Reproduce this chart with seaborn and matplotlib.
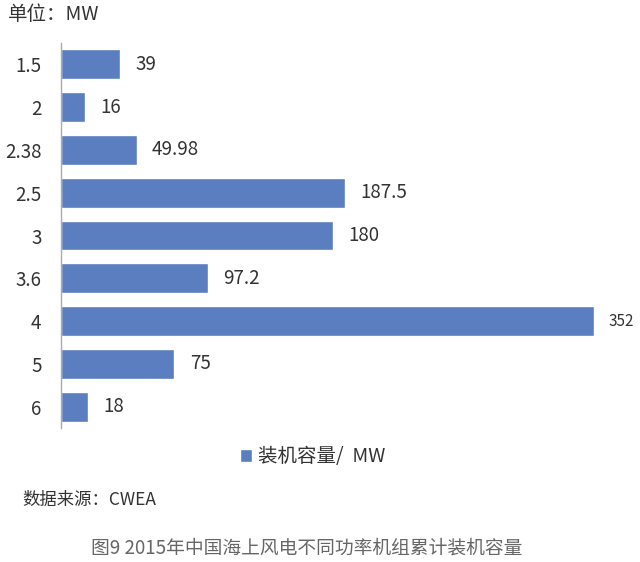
import matplotlib
matplotlib.use('Agg')
import matplotlib.pyplot as plt
import seaborn as sns
import pandas as pd

# data
power = ['1.5', '2', '2.38', '2.5', '3', '3.6', '4', '5', '6']
capacity = [39, 16, 49.98, 187.5, 180, 97.2, 352, 75, 18]
value_labels = ['39', '16', '49.98', '187.5', '180', '97.2', '352', '75', '18']
series_name = '装机容量/  MW'


def create_plot():
    sns.set_style('white')
    plt.rcParams['font.family'] = ['Noto Sans CJK SC', 'DejaVu Sans']

    df = pd.DataFrame({'power': power, 'capacity': capacity})
    bar_color = '#5a7ebf'
    text_color = '#333333'

    fig = plt.figure(figsize=(6.4, 5.62), dpi=100)
    ax = fig.add_axes([61 / 640, 1 - 428 / 562, 575 / 640, 385 / 562])

    sns.barplot(data=df, x='capacity', y='power', orient='h', color=bar_color,
                width=0.7, saturation=1, ax=ax, label=series_name)

    ax.set_xlim(0, 380)
    ax.set_ylim(8.5, -0.5)
    ax.set_xlabel('')
    ax.set_ylabel('')
    ax.set_xticks([])
    ax.tick_params(axis='y', length=0, labelsize=13.5, labelcolor=text_color, pad=14)

    for s in ['top', 'right', 'bottom']:
        ax.spines[s].set_visible(False)
    ax.spines['left'].set_color('#aaaaaa')
    ax.spines['left'].set_linewidth(1)

    for i, (v, lab) in enumerate(zip(capacity, value_labels)):
        size = 11 if v > 300 else 13.5
        ax.annotate(lab, xy=(v, i), xytext=(11, 0), textcoords='offset points',
                    va='center', ha='left', fontsize=size, color=text_color)

    leg = ax.legend(loc='center', bbox_to_anchor=(0.438, -0.075),
                    frameon=False, fontsize=14, handlelength=0.6, handleheight=0.6,
                    handletextpad=0.3)
    for t in leg.get_texts():
        t.set_color(text_color)

    fig.text(8 / 640, 1 - 14 / 562, '单位：MW', fontsize=14, color=text_color,
             va='center', ha='left')
    fig.text(22 / 640, 1 - 500 / 562, '数据来源：CWEA', fontsize=12.5, color=text_color,
             va='center', ha='left')
    fig.text(307 / 640, 1 - 548 / 562, '图9 2015年中国海上风电不同功率机组累计装机容量',
             fontsize=13.5, color='#666666', va='center', ha='center')

    fig.savefig('out.png', dpi=100)


if __name__ == '__main__':
    create_plot()
